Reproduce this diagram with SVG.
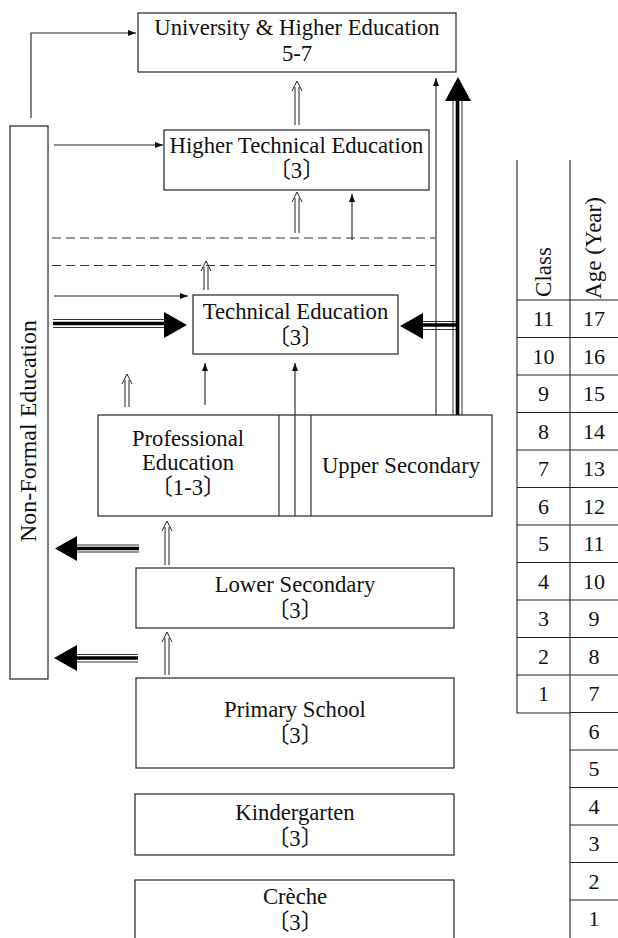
<svg xmlns="http://www.w3.org/2000/svg" width="618" height="938" viewBox="0 0 618 938">
<defs>
<marker id="ah" viewBox="0 0 8 6" refX="8" refY="3" markerWidth="8" markerHeight="6" markerUnits="userSpaceOnUse" orient="auto">
<path d="M0,0 L8,3 L0,6 Z" fill="#111"/>
</marker>
<style>
.box{fill:#fff;stroke:#222;stroke-width:1.2}
.t{font-family:"Liberation Serif","Noto Sans CJK JP",serif;font-size:22.7px;fill:#111;text-anchor:middle}
.nf{font-size:24px}
.n{font-family:"Liberation Serif","Noto Sans CJK JP",serif;font-size:22px;fill:#111;text-anchor:middle}
.h{font-size:23px}
.thin{fill:none;stroke:#222;stroke-width:1.1}
.dash{fill:none;stroke:#333;stroke-width:1.1;stroke-dasharray:9 5}
.hol{fill:none;stroke:#222;stroke-width:1}
.thk{fill:none;stroke:#000;stroke-width:3.6}
.th1{fill:none;stroke:#333;stroke-width:1}
.head{fill:#000}
.grid{fill:none;stroke:#222;stroke-width:1.1}
</style>
</defs>

<g id="connectors">
<!-- thin arrows -->
<path class="thin" d="M31,118 V33 H136" marker-end="url(#ah)"/>
<path class="thin" d="M54,145 H163" marker-end="url(#ah)"/>
<path class="thin" d="M352,240 V194" marker-end="url(#ah)"/>
<path class="thin" d="M436,415 V78" marker-end="url(#ah)"/>
<path class="thin" d="M54,296 H188" marker-end="url(#ah)"/>
<path class="thin" d="M205,405 V363" marker-end="url(#ah)"/>
<path class="thin" d="M295,516 V363" marker-end="url(#ah)"/>
<!-- dashed lines -->
<path class="dash" d="M52,238 H435"/>
<path class="dash" d="M52,265.5 H435"/>
<!-- hollow double arrows -->
<path class="hol" d="M295,125 V87 M299,125 V87 M292,91 L297,81 L302,91"/>
<path class="hol" d="M295,233 V198 M299,233 V198 M292,202 L297,192 L302,202"/>
<path class="hol" d="M204,290 V267 M208,290 V267 M201,271 L206,261 L211,271"/>
<path class="hol" d="M125,407 V380 M129,407 V380 M122,384 L127,374 L132,384"/>
<path class="hol" d="M165,565 V527 M169,565 V527 M162,531 L167,521 L172,531"/>
<path class="hol" d="M165,675 V638 M169,675 V638 M162,642 L167,632 L172,642"/>
<!-- thick arrow up -->
<path class="th1" d="M453,100 V415 M462,100 V415"/>
<path class="thk" d="M457.5,100 V415"/>
<polygon class="head" points="445,101 458,77 471,101"/>
<!-- thick arrow left into Technical Education -->
<path class="th1" d="M423,321.5 H456 M423,329.5 H456"/>
<path class="thk" d="M423,325 H457"/>
<polygon class="head" points="423,313 400,326 423,339"/>
<!-- thick arrow right from Non-Formal -->
<path class="th1" d="M53,319.5 H165 M53,327.5 H165"/>
<path class="thk" d="M53,323.5 H165"/>
<polygon class="head" points="164,312 187,325 164,338"/>
<!-- thick arrows left into Non-Formal -->
<path class="th1" d="M76,545 H139 M76,552 H139"/>
<path class="thk" d="M76,548.5 H139"/>
<polygon class="head" points="77,536 55,548.5 77,561"/>
<path class="th1" d="M76,654.5 H138 M76,662 H138"/>
<path class="thk" d="M76,658 H138"/>
<polygon class="head" points="77,645 54,658 77,671"/>
</g>

<g id="university">
<rect class="box" x="138" y="13" width="318" height="59"/>
<text class="t" x="297" y="35">University &amp; Higher Education</text>
<text class="t" x="297" y="61">5-7</text>
</g>

<g id="higher-technical">
<rect class="box" x="164" y="130" width="265" height="60"/>
<text class="t" x="296.5" y="153">Higher Technical Education</text>
<text class="t" x="296.5" y="178">〔3〕</text>
</g>

<g id="technical">
<rect class="box" x="193" y="295" width="205" height="59"/>
<text class="t" x="295.5" y="319">Technical Education</text>
<text class="t" x="295.5" y="345">〔3〕</text>
</g>

<g id="professional-upper">
<rect class="box" x="98" y="415" width="394" height="101"/>
<path class="grid" d="M279,415 V516 M311,415 V516"/>
<path class="thin" d="M295,516 V415"/>
<text class="t" x="188" y="446">Professional</text>
<text class="t" x="188" y="470">Education</text>
<text class="t" x="188" y="495">〔1-3〕</text>
<text class="t" x="401" y="473">Upper Secondary</text>
</g>

<g id="non-formal">
<rect class="box" x="10" y="126" width="38" height="553"/>
<text class="t nf" transform="translate(36,431) rotate(-90)">Non-Formal Education</text>
</g>

<g id="lower-secondary">
<rect class="box" x="136" y="568" width="318" height="60"/>
<text class="t" x="295" y="592">Lower Secondary</text>
<text class="t" x="295" y="618">〔3〕</text>
</g>

<g id="primary">
<rect class="box" x="136" y="678" width="318" height="90"/>
<text class="t" x="295" y="717">Primary School</text>
<text class="t" x="295" y="743">〔3〕</text>
</g>

<g id="kindergarten">
<rect class="box" x="135" y="794" width="319" height="61"/>
<text class="t" x="295" y="820">Kindergarten</text>
<text class="t" x="295" y="846">〔3〕</text>
</g>

<g id="creche">
<rect class="box" x="135" y="880" width="319" height="70"/>
<text class="t" x="295" y="904">Crèche</text>
<text class="t" x="295" y="930">〔3〕</text>
</g>

<g id="age-table">
<path class="grid" d="M517,160 V713 H570 M570,160 V938"/>
<path class="grid" d="M517,300 H618 M517,337.5 H618 M517,375 H618 M517,412.5 H618 M517,450 H618 M517,487.5 H618 M517,525 H618 M517,562.5 H618 M517,600 H618 M517,637.5 H618 M517,675 H618 M570,712.5 H618 M570,750 H618 M570,787.5 H618 M570,825 H618 M570,862.5 H618 M570,900 H618"/>
<text class="n h" transform="translate(551,272) rotate(-90)">Class</text>
<text class="n h" transform="translate(601,248) rotate(-90)">Age (Year)</text>
<text class="n" x="543.5" y="326">11</text><text class="n" x="594" y="326">17</text>
<text class="n" x="543.5" y="363.5">10</text><text class="n" x="594" y="363.5">16</text>
<text class="n" x="543.5" y="401">9</text><text class="n" x="594" y="401">15</text>
<text class="n" x="543.5" y="438.5">8</text><text class="n" x="594" y="438.5">14</text>
<text class="n" x="543.5" y="476">7</text><text class="n" x="594" y="476">13</text>
<text class="n" x="543.5" y="513.5">6</text><text class="n" x="594" y="513.5">12</text>
<text class="n" x="543.5" y="551">5</text><text class="n" x="594" y="551">11</text>
<text class="n" x="543.5" y="588.5">4</text><text class="n" x="594" y="588.5">10</text>
<text class="n" x="543.5" y="626">3</text><text class="n" x="594" y="626">9</text>
<text class="n" x="543.5" y="663.5">2</text><text class="n" x="594" y="663.5">8</text>
<text class="n" x="543.5" y="701">1</text><text class="n" x="594" y="701">7</text>
<text class="n" x="594" y="738.5">6</text>
<text class="n" x="594" y="776">5</text>
<text class="n" x="594" y="813.5">4</text>
<text class="n" x="594" y="851">3</text>
<text class="n" x="594" y="888.5">2</text>
<text class="n" x="594" y="926">1</text>
</g>
</svg>
